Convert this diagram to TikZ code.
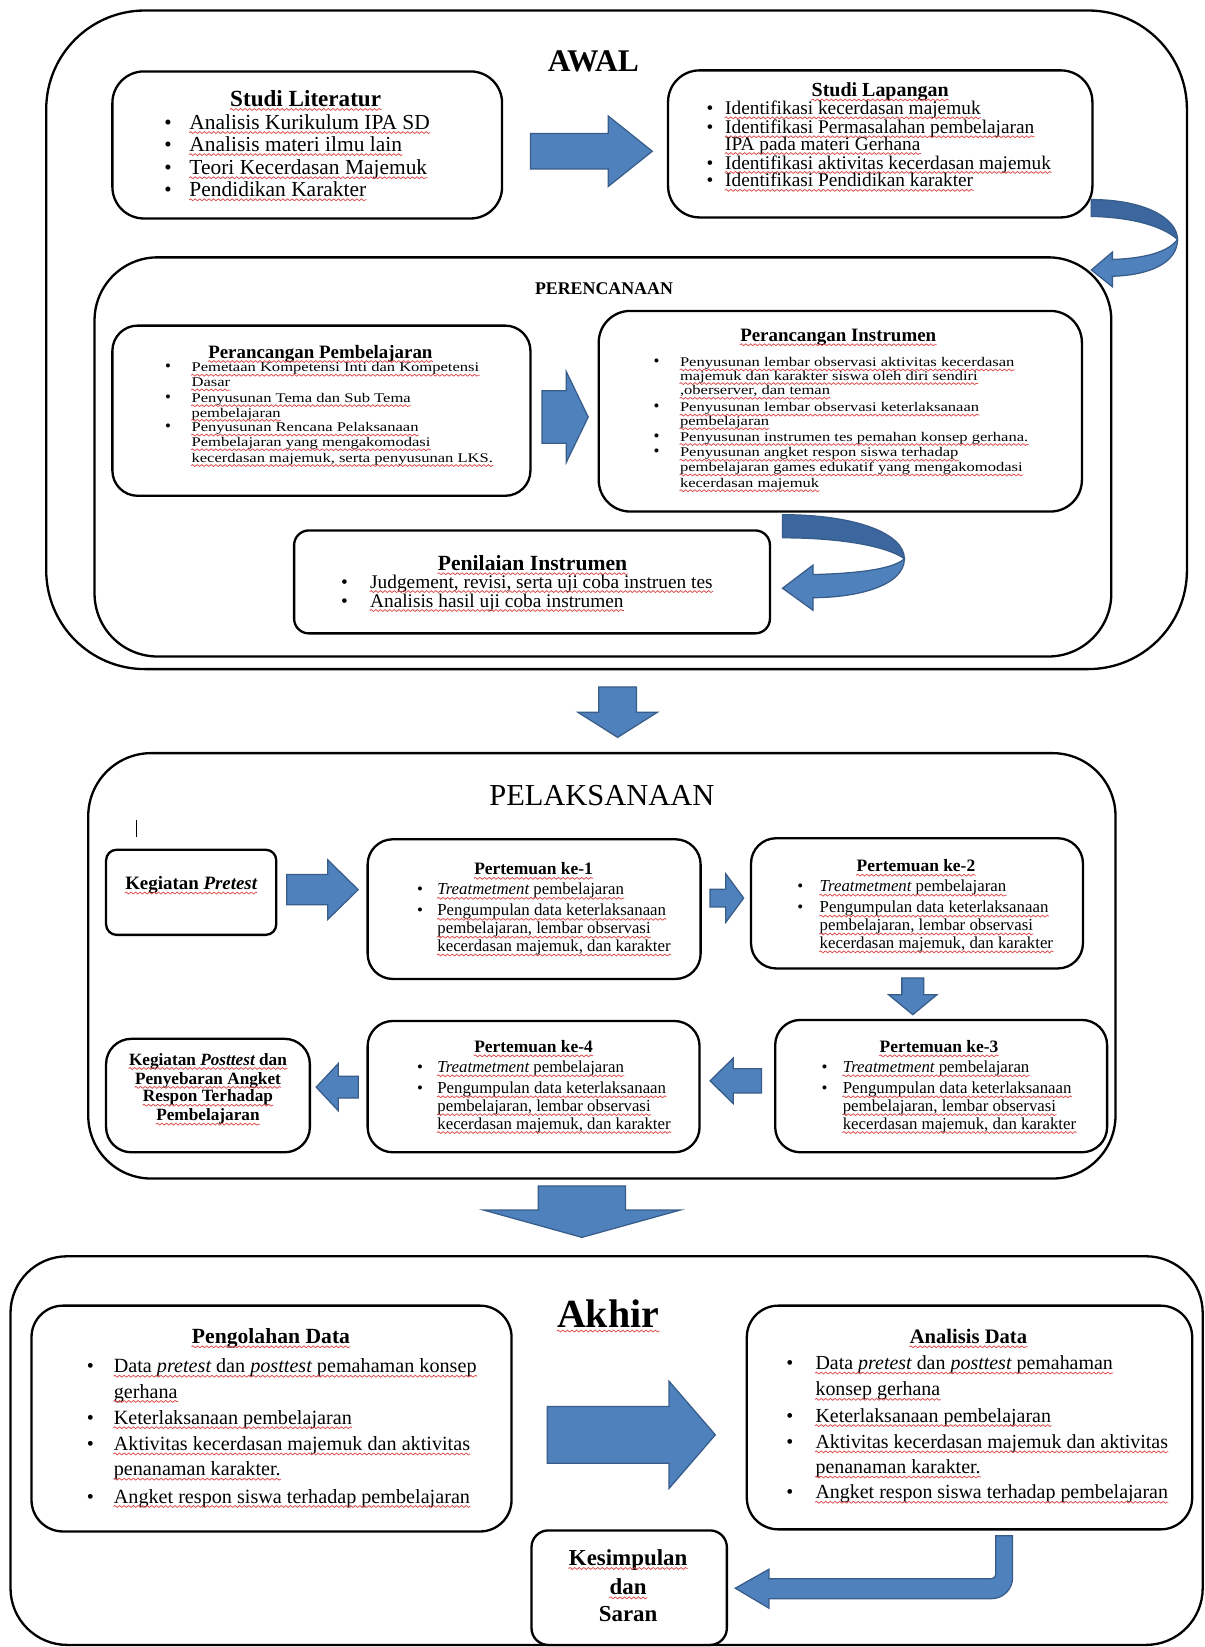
\documentclass[tikz,border=0pt]{standalone}
\usepackage{fontspec}
\setmainfont{Liberation Serif}
\newfontfamily\widefont{Liberation Serif}[FakeStretch=1.25]
\usetikzlibrary{calc,fit,decorations.pathmorphing}

\definecolor{arrowblue}{HTML}{4F81BD}
\definecolor{arrowedge}{HTML}{385D8A}
\definecolor{arrowdark}{HTML}{3B679E}
\definecolor{wavered}{HTML}{E04848}

% panah blok: ekor, ujung, panjang kepala, setengah lebar kepala, setengah lebar badan
\newcommand\blockarrow[5]{%
  \coordinate (ba-h) at ($(#2)!#3!(#1)$);
  \filldraw[blockarrow] (#2) -- ($(ba-h)!#4!90:(#2)$) -- ($(ba-h)!#5!90:(#2)$)
    -- ($(#1)!#5!90:(#2)$) -- ($(#1)!#5!-90:(#2)$)
    -- ($(ba-h)!#5!-90:(#2)$) -- ($(ba-h)!#4!-90:(#2)$) -- cycle;}

\begin{document}
\begin{tikzpicture}[x=0.5pt, y=-0.5pt,
  box/.style={draw, line width=1.1pt, fill=white, inner sep=0pt, rounded corners=#1},
  wavy/.style={draw=wavered, line width=0.35pt, decorate,
    decoration={snake, amplitude=0.45pt, segment length=2.2pt}},
  sq/.style={append after command={($(\tikzlastnode.base west)+(0,3.2)$)
    edge[wavy] ($(\tikzlastnode.base east)+(0,3.2)$)}},
  plain/.style={anchor=base, inner sep=0pt, font=\fontsize{#1}{#1}\selectfont\bfseries},
  hd/.style={plain=#1, sq},
  ln/.style={anchor=base west, inner sep=0pt, font=\fontsize{#1}{#1}\selectfont, sq},
  wl/.style={anchor=base west, inner sep=0pt, font=\widefont\fontsize{#1}{#1}\selectfont, sq},
  bul/.style={anchor=base, inner sep=0pt, font=\fontsize{#1}{#1}\selectfont},
  blockarrow/.style={fill=arrowblue, draw=arrowedge, line width=0.6pt}]

\useasboundingbox (0,0) rectangle (1147,1568);

% ================= AWAL =================
\node[box=47pt, fit={(44,10) (1130,637)}] (awal) {};
\node[plain=15] (awal-t) at (565,68) {AWAL};

% Studi Literatur
\node[box=15pt, fit={(107,68) (478,208)}] (lit) {};
\node[hd=11] (lit-t) at (291,101) {Studi Literatur};
\foreach \yy/\txt [count=\i] in {123/{Analisis Kurikulum IPA SD},
    144/{Analisis materi ilmu lain},
    166/{Teori Kecerdasan Majemuk},
    187/{Pendidikan Karakter}} {
  \node[ln=10.2] (lit-\i) at (180,\yy) {\txt};
  \node[bul=10] (lit-b\i) at (160,\yy) {\textbullet};
}

% Studi Lapangan
\node[box=15pt, fit={(636,67) (1040,207)}] (lap) {};
\node[hd=9.5] (lap-t) at (838,92) {Studi Lapangan};
\foreach \yy/\txt [count=\i] in {109/{Identifikasi kecerdasan majemuk},
    127/{Identifikasi Permasalahan pembelajaran},
    143/{IPA pada materi Gerhana},
    161/{Identifikasi aktivitas kecerdasan majemuk},
    178/{Identifikasi Pendidikan karakter}}
  \node[ln=9.2] (lap-\i) at (690,\yy) {\txt};
\foreach \yy [count=\i] in {109,127,161,178}
  \node[bul=9.2] (lap-b\i) at (676,\yy) {\textbullet};

% PERENCANAAN
\node[box=30pt, fit={(90,245) (1058,625)}] (renc) {};
\node[plain=8.5] (renc-t) at (575,280) {PERENCANAAN};

% Perancangan Pembelajaran
\node[box=12pt, fit={(107,310) (505,472)}] (pemb) {};
\node[hd=9] (pemb-t) at (305,341) {Perancangan Pembelajaran};
\foreach \yy/\txt [count=\i] in {354/{Pemetaan Kompetensi Inti dan Kompetensi},
    368/{Dasar},
    383/{Penyusunan Tema dan Sub Tema},
    397/{pembelajaran},
    411/{Penyusunan Rencana Pelaksanaan},
    425/{Pembelajaran yang mengakomodasi},
    440/{kecerdasan majemuk, serta penyusunan LKS.}}
  \node[wl=6.3] (pemb-\i) at (182,\yy) {\txt};
\foreach \yy [count=\i] in {354,383,411}
  \node[bul=8] (pemb-b\i) at (160,\yy) {\textbullet};

% Perancangan Instrumen
\node[box=15pt, fit={(570,296) (1030,487)}] (inst) {};
\node[hd=9] (inst-t) at (798,325) {Perancangan Instrumen};
\foreach \yy/\txt [count=\i] in {349/{Penyusunan lembar observasi aktivitas kecerdasan},
    362/{majemuk dan karakter siswa oleh diri sendiri},
    376/{,oberserver, dan teman},
    392/{Penyusunan lembar observasi keterlaksanaan},
    405/{pembelajaran},
    420/{Penyusunan instrumen tes pemahan konsep gerhana.},
    435/{Penyusunan angket respon siswa terhadap},
    449/{pembelajaran games edukatif yang mengakomodasi},
    464/{kecerdasan majemuk}}
  \node[wl=6.3] (inst-\i) at (647,\yy) {\txt};
\foreach \yy [count=\i] in {349,392,420,435}
  \node[bul=8] (inst-b\i) at (625,\yy) {\textbullet};

% Penilaian Instrumen
\node[box=7pt, fit={(280,505) (733,603)}] (nilai) {};
\node[hd=10.3] (nilai-t) at (507,543) {Penilaian Instrumen};
\foreach \yy/\txt [count=\i] in {560/{Judgement, revisi, serta uji coba instruen tes},
    578/{Analisis hasil uji coba instrumen}} {
  \node[ln=9.2] (nilai-\i) at (352,\yy) {\txt};
  \node[bul=9.2] (nilai-b\i) at (328,\yy) {\textbullet};
}

% ================= PELAKSANAAN =================
\node[box=30pt, fit={(84,717) (1062,1122)}] (laks) {};
\node[anchor=base, inner sep=0pt, font=\fontsize{14.5}{14.5}\selectfont] (laks-t) at (573,767) {PELAKSANAAN};
\draw[line width=0.7pt] (130,781) -- (130,797);

\node[box=5pt, fit={(101,809) (263,890)}] (pre) {};
\node[hd=9] (pre-t) at (182,847) {Kegiatan {\itshape Pretest}};

% Pertemuan ke-1 s.d. ke-4
\node[box=12pt, fit={(350,799) (667,932)}] (p1) {};
\node[box=12pt, fit={(715,798) (1031,922)}] (p2) {};
\node[box=12pt, fit={(738,971) (1054,1097)}] (p3) {};
\node[box=12pt, fit={(350,972) (666,1097)}] (p4) {};
\foreach \k/\tx/\ty/\lx/\bx in {1/508/833/416/400, 2/872/830/780/762,
    3/894/1002/802/785, 4/508/1002/416/400} {
  \node[hd=8.3] (p\k-t) at (\tx,\ty) {Pertemuan ke-\k};
  \foreach \dy/\txt [count=\i] in {19/{{\itshape Treatmetment} pembelajaran},
      39/{Pengumpulan data keterlaksanaan},
      56/{pembelajaran, lembar observasi},
      73/{kecerdasan majemuk, dan karakter}}
    \node[ln=8] (p\k-\i) at (\lx,\ty+\dy) {\txt};
  \node[bul=8] (p\k-b1) at (\bx,\ty+19) {\textbullet};
  \node[bul=8] (p\k-b2) at (\bx,\ty+39) {\textbullet};
}

\node[box=12pt, fit={(101,989) (295,1097)}] (post) {};
\foreach \yy/\txt [count=\i] in {1014/{Kegiatan {\itshape Posttest} dan},
    1032/{Penyebaran Angket},
    1049/{Respon Terhadap},
    1067/{Pembelajaran}}
  \node[hd=8.2] (post-\i) at (198,\yy) {\txt};

% ================= AKHIR =================
\node[box=27pt, fit={(10,1196) (1145,1566)}] (akhir) {};
\node[hd=19] (akhir-t) at (579,1264) {Akhir};

% Pengolahan Data
\node[box=15pt, fit={(30,1243) (487,1458)}] (olah) {};
\node[hd=10.3] (olah-t) at (258,1279) {Pengolahan Data};
\foreach \yy/\txt [count=\i] in {1307/{Data {\itshape pretest} dan {\itshape posttest} pemahaman konsep},
    1331/{gerhana},
    1356/{Keterlaksanaan pembelajaran},
    1381/{Aktivitas kecerdasan majemuk dan aktivitas},
    1405/{penanaman karakter.},
    1431/{Angket respon siswa terhadap pembelajaran}}
  \node[ln=9.6] (olah-\i) at (108,\yy) {\txt};
\foreach \yy [count=\i] in {1307,1356,1381,1431}
  \node[bul=9.6] (olah-b\i) at (86,\yy) {\textbullet};

% Analisis Data
\node[box=15pt, fit={(711,1243) (1135,1456)}] (anls) {};
\node[hd=9.8] (anls-t) at (922,1279) {Analisis Data};
\foreach \yy/\txt [count=\i] in {1304/{Data {\itshape pretest} dan {\itshape posttest} pemahaman},
    1329/{konsep gerhana},
    1354/{Keterlaksanaan pembelajaran},
    1379/{Aktivitas kecerdasan majemuk dan aktivitas},
    1403/{penanaman karakter.},
    1427/{Angket respon siswa terhadap pembelajaran}}
  \node[ln=9.5] (anls-\i) at (776,\yy) {\txt};
\foreach \yy [count=\i] in {1304,1354,1379,1427}
  \node[bul=9.5] (anls-b\i) at (752,\yy) {\textbullet};

% Kesimpulan dan Saran
\node[box=8pt, fit={(506,1457) (692,1566)}] (kes) {};
\node[hd=10.9] (kes-1) at (598,1490) {Kesimpulan};
\node[hd=10.9] (kes-2) at (598,1518) {dan};
\node[plain=10.9] (kes-3) at (598,1544) {Saran};

% ================= PANAH =================
\coordinate (aw-a) at (505,144);   \coordinate (aw-b) at (621,144);
\coordinate (pe-a) at (516,397);   \coordinate (pe-b) at (560,397);
\coordinate (dn1-a) at (588,654);  \coordinate (dn1-b) at (588,702);
\coordinate (pr-a) at (273,847);   \coordinate (pr-b) at (341,847);
\coordinate (m12-a) at (676,855);  \coordinate (m12-b) at (708,855);
\coordinate (m23-a) at (869,931);  \coordinate (m23-b) at (869,966);
\coordinate (m34-a) at (725,1029); \coordinate (m34-b) at (676,1029);
\coordinate (m4p-a) at (341,1035); \coordinate (m4p-b) at (301,1035);
\coordinate (dn2-a) at (554,1129); \coordinate (dn2-b) at (554,1178);
\coordinate (ak-a) at (521,1366);  \coordinate (ak-b) at (681,1366);

\blockarrow{aw-a}{aw-b}{21pt}{16.8pt}{8.4pt}
\blockarrow{pe-a}{pe-b}{10.5pt}{21.7pt}{12.5pt}
\blockarrow{dn1-a}{dn1-b}{12pt}{19pt}{9pt}
\blockarrow{pr-a}{pr-b}{14.5pt}{14.2pt}{7.2pt}
\blockarrow{m12-a}{m12-b}{8.5pt}{11.5pt}{4.2pt}
\blockarrow{m23-a}{m23-b}{9.5pt}{11.5pt}{5.2pt}
\blockarrow{m34-a}{m34-b}{11pt}{10.8pt}{5.8pt}
\blockarrow{m4p-a}{m4p-b}{10.5pt}{11.2pt}{5.2pt}
\blockarrow{dn2-a}{dn2-b}{13pt}{46.8pt}{20.8pt}
\blockarrow{ak-a}{ak-b}{22pt}{25.5pt}{13.5pt}

% panah lengkung: Studi Lapangan -> Perencanaan
\filldraw[fill=arrowdark, draw=arrowedge, line width=0.6pt]
  (1039,190) .. controls (1090,190) and (1121,208) .. (1121,228)
  .. controls (1108,216) and (1080,207) .. (1039,206) -- cycle;
\filldraw[blockarrow]
  (1121,228) .. controls (1121,250) and (1095,262) .. (1059,263)
  -- (1059,273) -- (1039,257) -- (1059,240) -- (1059,247)
  .. controls (1090,246) and (1112,240) .. (1121,228) -- cycle;

% panah lengkung: Perancangan Instrumen -> Penilaian
\filldraw[fill=arrowdark, draw=arrowedge, line width=0.6pt]
  (745,490) .. controls (815,490) and (861,508) .. (861,532)
  .. controls (845,520) and (800,512) .. (745,512) -- cycle;
\filldraw[blockarrow]
  (861,532) .. controls (861,558) and (815,569) .. (774,569)
  -- (774,581) -- (745,560) -- (774,538) -- (774,547)
  .. controls (815,546) and (850,542) .. (861,532) -- cycle;

% panah siku: Analisis Data -> Kesimpulan
\filldraw[blockarrow]
  (948,1462) -- (964,1462) -- (964,1502) .. controls (964,1513) and (955,1522) .. (944,1522)
  -- (732,1522) -- (732,1531) -- (700,1512) -- (732,1494) -- (732,1503) -- (943,1503)
  .. controls (946,1503) and (948,1501) .. (948,1498) -- cycle;

\end{tikzpicture}
\end{document}
